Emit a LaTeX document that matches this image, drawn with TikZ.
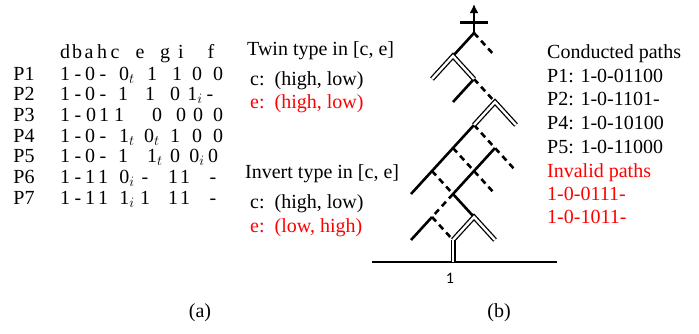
\documentclass[tikz,border=0pt]{standalone}
\usepackage{fontspec}
\setmainfont{Liberation Serif}
\newfontfamily\labelfont{Carlito}
\usetikzlibrary{arrows.meta}

\tikzset{
    txt/.style={font=\fontsize{20}{24}\selectfont, inner sep=0pt},
    cell/.style={txt, anchor=base},
    line/.style={txt, anchor=base west},
    invalid/.style={line, text=red},
    solid edge/.style={line width=2.6pt, black},
    dashed edge/.style={line width=2.6pt, black, dash pattern=on 6pt off 4.5pt},
    double edge/.style={line width=1.3pt, double=white, double distance=2.4pt, black},
}
% one row of the table: y of the baseline, then x/text pairs
\newcommand{\pathrow}[2]{\foreach \x/\t in {#2} {\node[cell] at (\x,#1) {\t};}}

\begin{document}
\begin{tikzpicture}[x=1pt, y=-1pt]
    \useasboundingbox (0,0) rectangle (699,333);

    % (a) paths and their values
    \pathrow{58}{65/d, 77/b, 89/a, 102/h, 115/c, 140/e, 165/g, 181/i, 211/f}
    \foreach \k in {1,...,7} {\node[cell] (p\k) at (24,{80+20.7*(\k-1)}) {P\k};}
    \pathrow{80}{65/1, 78/-, 90/0, 103/-, 127/0$_t$, 152/1, 177/1, 197/0, 218/0}
    \pathrow{100.7}{65/1, 78/-, 90/0, 103/-, 123/1, 150/1, 175/0, 195/1$_i$, 210/-}
    \pathrow{121.4}{65/1, 78/-, 91/0, 104/1, 119/1, 157/0, 181/0, 198/0, 218/0}
    \pathrow{142.1}{65/1, 78/-, 90/0, 103/-, 127/1$_t$, 152/0$_t$, 175/1, 197/0, 218/0}
    \pathrow{162.8}{65/1, 78/-, 90/0, 103/-, 123/1, 155/1$_t$, 175/0, 197/0$_i$, 213/0}
    \pathrow{183.5}{65/1, 78/-, 90/1, 103/1, 127/0$_i$, 145/-, 173/1, 185/1, 213/-}
    \pathrow{204.2}{65/1, 78/-, 90/1, 103/1, 127/1$_i$, 145/1, 173/1, 185/1, 213/-}
    \node[txt] (capa) at (200,313) {(a)};

    % types of the pairs
    \node[line] (twin) at (247,55) {Twin type in [c, e]};
    \node[line] (twinc) at (250,85) {c:\ \ (high, low)};
    \node[invalid] (twine) at (250,108) {e:\ \ (high, low)};
    \node[line] (inv) at (245,178) {Invert type in [c, e]};
    \node[line] (invc) at (250,208) {c:\ \ (high, low)};
    \node[invalid] (inve) at (250,232) {e:\ \ (low, high)};

    % (b) the tree on a diagonal grid
    \foreach \a in {0,...,6} {
        \foreach \b in {0,...,5} {
            \coordinate (t\a\b) at ({474+21*(\b-\a)},{33+23*(\a+\b)});
        }
    }
    \coordinate (top) at (474,4);
    \coordinate (barl) at (460,22.7);
    \coordinate (barr) at (488,22.7);
    \coordinate (gl) at (372,262);
    \coordinate (gr) at (557,262);

    \draw[solid edge, -{Latex[length=9pt,width=9pt]}] (t00) -- (top);
    \draw[solid edge] (barl) -- (barr);
    \draw[solid edge] (gl) -- (gr);
    \draw[solid edge] (t00) -- (t10) (t11) -- (t21) (t22) -- (t52)
        (t23) -- (t43) (t43) -- (t44) (t53) -- (t63);
    \draw[dashed edge] (t00) -- (t01) (t11) -- (t12) (t22) -- (t24)
        (t32) -- (t34) (t42) -- (t43) (t43) -- (t53) (t53) -- (t54);
    \draw[double edge] (t20) -- (t10) -- (t11);
    \draw[double edge] (t13) -- (t12) -- (t22);
    \draw[double edge] (t54) -- (t44) -- (t45);
    \draw[double edge] (t54) -- (t54 |- gl);
    \node[font=\labelfont\fontsize{16}{18}\selectfont] (one) at (450,278) {1};
    \node[txt] (capb) at (499,313) {(b)};

    % paths read from the tree
    \node[line] (cond) at (547,58) {Conducted paths};
    \node[line] (c1) at (547,82) {P1: 1-0-01100};
    \node[line] (c2) at (547,105.5) {P2: 1-0-1101-};
    \node[line] (c4) at (547,129) {P4: 1-0-10100};
    \node[line] (c5) at (547,153) {P5: 1-0-11000};
    \node[invalid] (bad) at (547,177) {Invalid paths};
    \node[invalid] (b1) at (547,200) {1-0-0111-};
    \node[invalid] (b2) at (547,223.5) {1-0-1011-};

\end{tikzpicture}
\end{document}
